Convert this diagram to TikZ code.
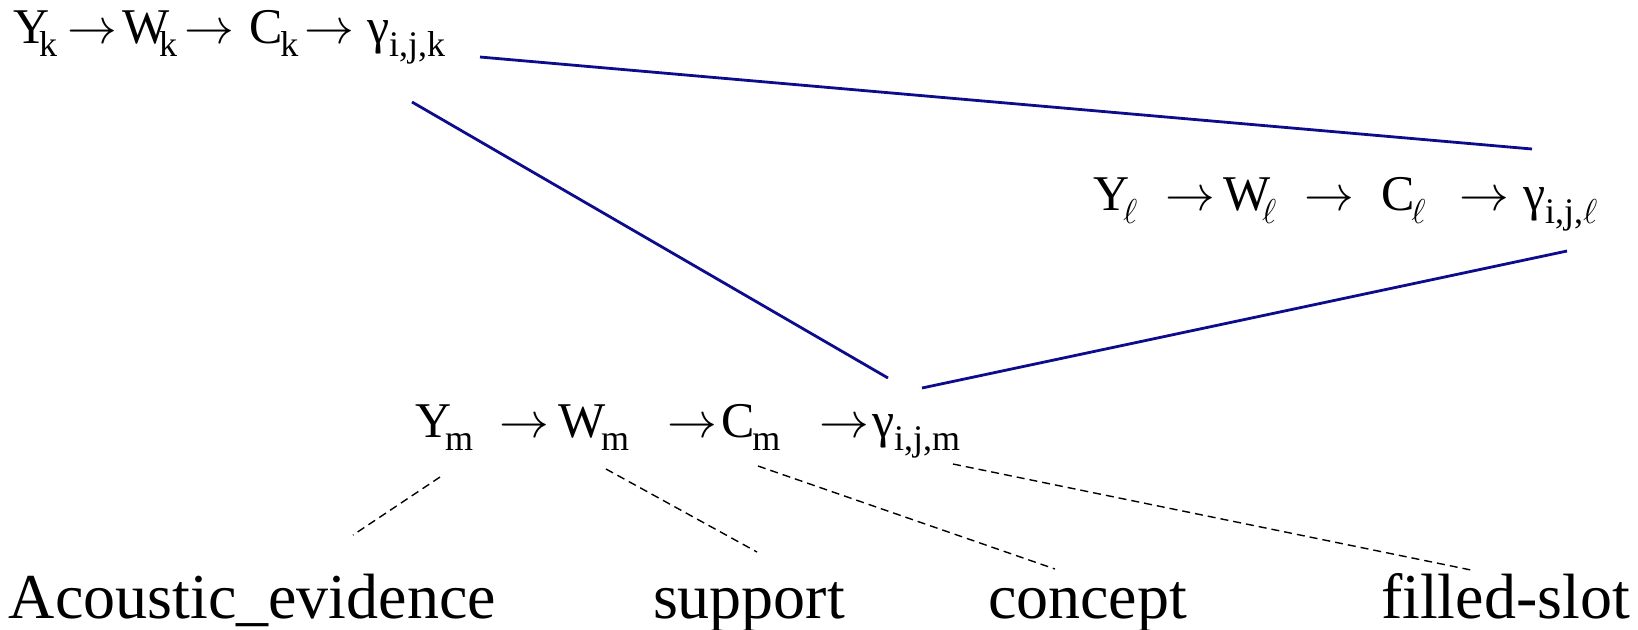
\documentclass[tikz,border=0pt]{standalone}
\usepackage{fontspec}
\setmainfont{Liberation Serif}
\definecolor{navyline}{RGB}{12,12,140}
\newcommand\subt[2]{\kern#1\raisebox{-0.27em}{\fontsize{18}{18}\selectfont #2}}
\begin{document}
\begin{tikzpicture}[x=0.5pt,y=-0.5pt,
  row/.style={anchor=base west, inner sep=0pt, outer sep=0pt, font=\fontsize{25}{25}\selectfont},
  lbl/.style={anchor=base west, inner sep=0pt, outer sep=0pt, font=\fontsize{32}{32}\selectfont},
  link/.style={draw=navyline, line width=1.4pt},
  lead/.style={draw=black, line width=0.7pt, dash pattern=on 4pt off 2.5pt}]
\useasboundingbox (0,0) rectangle (1638,629);
% row k
\node[row] (yk) at (13,43) {Y\subt{-5pt}{k}};
\node[row] (ak1) at (67,43) {$\rightarrow$};
\node[row] (wk) at (122,43) {W\subt{-5pt}{k}};
\node[row] (ak2) at (184,43) {$\rightarrow$};
\node[row] (ck) at (249,43) {C\subt{-1pt}{k}};
\node[row] (ak3) at (304,43) {$\rightarrow$};
\node[row] (gk) at (367,43) {γ\subt{0pt}{i,j,k}};
% row l
\node[row] (yl) at (1093,210) {Y\subt{-3pt}{$\ell$}};
\node[row] (al1) at (1165,210) {$\rightarrow$};
\node[row] (wl) at (1223,210) {W\subt{-4pt}{$\ell$}};
\node[row] (al2) at (1304,210) {$\rightarrow$};
\node[row] (cl) at (1381,210) {C\subt{-1.5pt}{$\ell$}};
\node[row] (al3) at (1459,210) {$\rightarrow$};
\node[row] (gl) at (1523,210) {γ\subt{0pt}{i,j,$\ell$}};
% row m
\node[row] (ym) at (415,437) {Y\subt{-3pt}{m}};
\node[row] (am1) at (499,437) {$\rightarrow$};
\node[row] (wm) at (558,437) {W\subt{-2pt}{m}};
\node[row] (am2) at (667,437) {$\rightarrow$};
\node[row] (cm) at (721,437) {C\subt{-1pt}{m}};
\node[row] (am3) at (819,437) {$\rightarrow$};
\node[row] (gm) at (872,437) {γ\subt{0pt}{i,j,m}};
% labels
\node[lbl] (acou) at (9,618) {Acoustic\_evidence};
\node[lbl] (supp) at (653,618) {support};
\node[lbl] (conc) at (988,618) {concept};
\node[lbl] (fill) at (1381,618) {filled-slot};
% link end points
\coordinate (k1) at (480,57);
\coordinate (l1) at (1532,149);
\coordinate (k2) at (412,102);
\coordinate (m2) at (888,378);
\coordinate (m3) at (922,388);
\coordinate (l3) at (1567,251);
\draw[link] (k1) -- (l1);
\draw[link] (k2) -- (m2);
\draw[link] (m3) -- (l3);
% leaders
\coordinate (d1a) at (440,477); \coordinate (d1b) at (353,535);
\coordinate (d2a) at (606,469); \coordinate (d2b) at (757,552);
\coordinate (d3a) at (758,466); \coordinate (d3b) at (1055,569);
\coordinate (d4a) at (953,464); \coordinate (d4b) at (1471,570);
\draw[lead] (d1a) -- (d1b);
\draw[lead] (d2a) -- (d2b);
\draw[lead] (d3a) -- (d3b);
\draw[lead] (d4a) -- (d4b);
\end{tikzpicture}
\end{document}
